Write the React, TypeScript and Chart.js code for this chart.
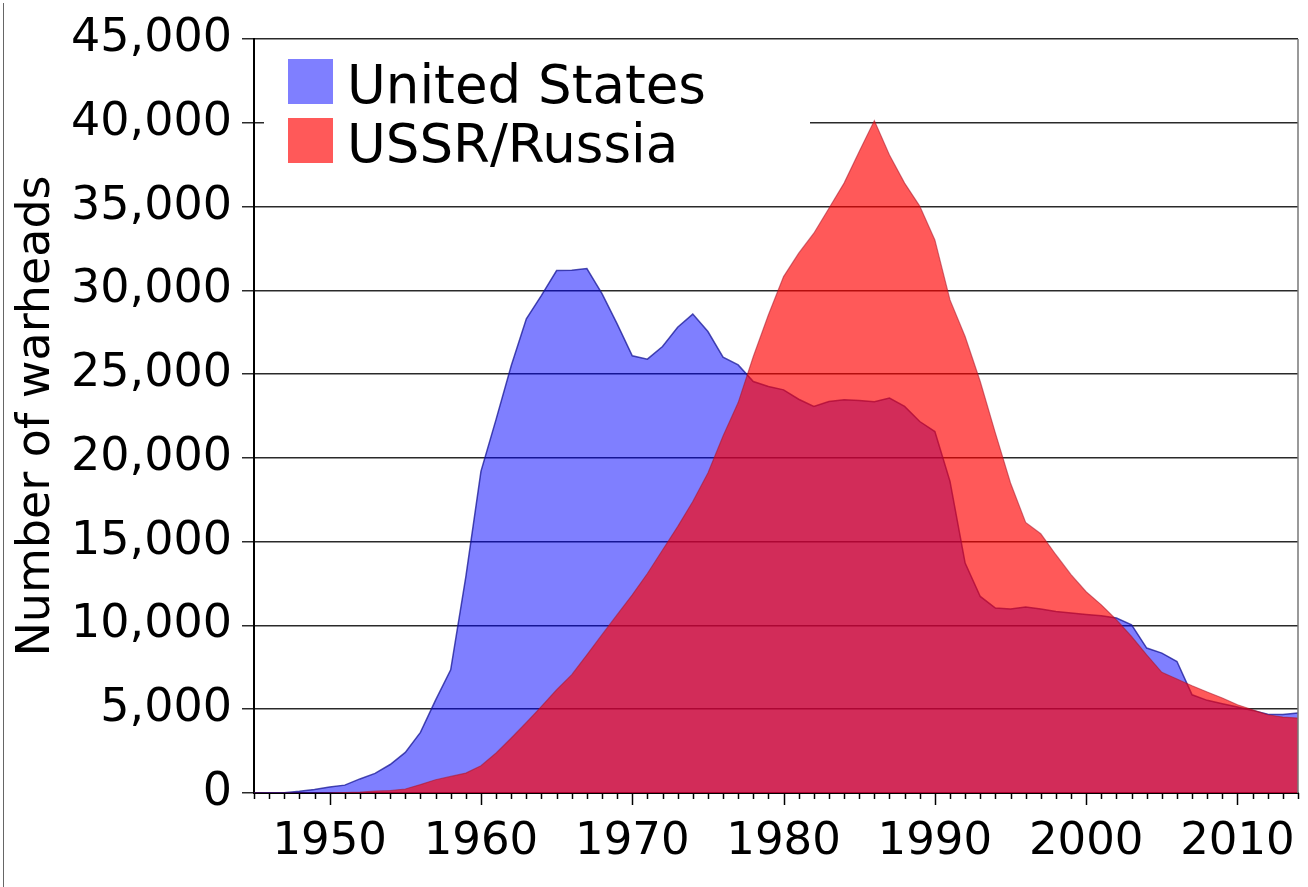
import React, { useEffect, useRef } from 'react';
import { Chart, registerables } from 'chart.js';

Chart.register(...registerables);

const YEARS = [
  1945, 1946, 1947, 1948, 1949, 1950, 1951, 1952, 1953, 1954,
  1955, 1956, 1957, 1958, 1959, 1960, 1961, 1962, 1963, 1964,
  1965, 1966, 1967, 1968, 1969, 1970, 1971, 1972, 1973, 1974,
  1975, 1976, 1977, 1978, 1979, 1980, 1981, 1982, 1983, 1984,
  1985, 1986, 1987, 1988, 1989, 1990, 1991, 1992, 1993, 1994,
  1995, 1996, 1997, 1998, 1999, 2000, 2001, 2002, 2003, 2004,
  2005, 2006, 2007, 2008, 2009, 2010, 2011, 2012, 2013, 2014,
];

const US_WARHEADS = [
  2, 9, 13, 100, 215, 360, 470, 840, 1170, 1700,
  2420, 3620, 5540, 7350, 12900, 19200, 22300, 25500, 28300, 29700,
  31180, 31200, 31300, 29800, 28000, 26090, 25890, 26650, 27800, 28580,
  27540, 26010, 25550, 24560, 24260, 24060, 23500, 23070, 23370, 23470,
  23430, 23350, 23570, 23070, 22170, 21570, 18600, 13720, 11730, 11040,
  10980, 11100, 10980, 10830, 10740, 10660, 10580, 10440, 10040, 8650,
  8350, 7850, 5860, 5530, 5330, 5130, 4930, 4700, 4680, 4770,
];

const USSR_WARHEADS = [
  0, 0, 0, 0, 1, 5, 25, 50, 120, 150,
  240, 500, 790, 990, 1190, 1630, 2390, 3280, 4210, 5170,
  6160, 7060, 8250, 9450, 10640, 11830, 13100, 14500, 15900, 17400,
  19100, 21300, 23300, 26050, 28540, 30820, 32220, 33410, 34900, 36400,
  38280, 40130, 38080, 36400, 35030, 33010, 29430, 27240, 24560, 21480,
  18500, 16150, 15470, 14220, 13030, 12010, 11230, 10340, 9340, 8250,
  7200, 6800, 6400, 6030, 5670, 5270, 4970, 4670, 4530, 4470,
];

const SERIES_NAMES = ['United States', 'USSR/Russia'];
const Y_MIN = 0;
const Y_MAX = 45000;
const Y_STEP = 5000;
const X_LABEL_EVERY = 10;

const US_FILL = 'rgba(0, 0, 255, 0.5)';
const RU_FILL = 'rgba(255, 0, 0, 0.65)';
const FONT = '"DejaVu Sans", "Liberation Sans", sans-serif';

const decorPlugin = {
  id: 'decor',
  beforeDatasetsDraw(chart: any) {
    const ctx = chart.ctx;
    const y = chart.scales.y;
    const area = chart.chartArea;
    ctx.save();
    ctx.fillStyle = '#ffffff';
    const top = y.getPixelForValue(45000) + 2;
    ctx.fillRect(area.left + 10, top, 546, 141);
    ctx.restore();
  },
  afterDraw(chart: any) {
    const ctx = chart.ctx;
    const x = chart.scales.x;
    const area = chart.chartArea;
    ctx.save();
    // year tick marks
    ctx.strokeStyle = '#000';
    ctx.lineWidth = 1.5;
    for (const yr of YEARS) {
      const px = Math.round(x.getPixelForValue(yr)) + 0.5;
      const len = yr % X_LABEL_EVERY === 0 ? 12 : 6;
      ctx.beginPath();
      ctx.moveTo(px, area.bottom);
      ctx.lineTo(px, area.bottom + len);
      ctx.stroke();
    }
    // right axis line
    ctx.strokeStyle = '#777';
    ctx.lineWidth = 1.5;
    ctx.beginPath();
    ctx.moveTo(area.right, area.top);
    ctx.lineTo(area.right, area.bottom);
    ctx.stroke();
    // image frame (left)
    ctx.strokeStyle = '#666';
    ctx.lineWidth = 1;
    ctx.beginPath();
    ctx.moveTo(3.5, 3);
    ctx.lineTo(3.5, chart.height);
    ctx.stroke();
    // legend
    const lx = area.left + 34;
    const items = [
      { name: SERIES_NAMES[0], color: US_FILL, top: 59 },
      { name: SERIES_NAMES[1], color: RU_FILL, top: 118 },
    ];
    ctx.font = '53px ' + FONT;
    ctx.textBaseline = 'alphabetic';
    ctx.textAlign = 'left';
    for (const it of items) {
      ctx.fillStyle = it.color;
      ctx.fillRect(lx, it.top, 45, 45);
      ctx.fillStyle = '#000';
      ctx.fillText(it.name, lx + 59, it.top + 44);
    }
    ctx.restore();
  },
};

export default function App() {
  const ref = useRef<HTMLCanvasElement | null>(null);

  useEffect(() => {
    document.body.style.margin = '0';
    const canvas = ref.current;
    if (!canvas) return;
    const chart = new Chart(canvas, {
      type: 'line',
      data: {
        datasets: [
          {
            label: SERIES_NAMES[0],
            data: YEARS.map((yr, i) => ({ x: yr, y: US_WARHEADS[i] })),
            backgroundColor: US_FILL,
            borderColor: 'rgba(20, 20, 150, 0.75)',
            borderWidth: 1.5,
            fill: 'origin',
            pointRadius: 0,
            tension: 0,
            order: 2,
          },
          {
            label: SERIES_NAMES[1],
            data: YEARS.map((yr, i) => ({ x: yr, y: USSR_WARHEADS[i] })),
            backgroundColor: RU_FILL,
            borderColor: 'rgba(170, 20, 40, 0.55)',
            borderWidth: 1.2,
            fill: 'origin',
            pointRadius: 0,
            tension: 0,
            order: 1,
          },
        ],
      },
      options: {
        animation: false,
        responsive: false,
        devicePixelRatio: 1,
        layout: { padding: { top: 39, right: 10, left: 0, bottom: 0 } },
        plugins: {
          legend: { display: false },
          tooltip: { enabled: false },
        },
        scales: {
          x: {
            type: 'linear',
            min: YEARS[0],
            max: YEARS[YEARS.length - 1],
            grid: { display: false, drawTicks: true, tickLength: 12 },
            border: { display: true, color: '#000', width: 2 },
            ticks: {
              stepSize: 1,
              autoSkip: false,
              maxRotation: 0,
              padding: 10,
              color: '#000',
              font: { family: FONT, size: 45 },
              callback: (v: any) => (Number(v) % X_LABEL_EVERY === 0 ? String(v) : ''),
            },
            afterFit: (scale: any) => {
              scale.height = 94;
            },
          },
          y: {
            min: Y_MIN,
            max: Y_MAX,
            grid: { color: '#2a2a2a', lineWidth: 1.5, drawTicks: true, tickLength: 12 },
            border: { display: true, color: '#000', width: 2 },
            ticks: {
              stepSize: Y_STEP,
              padding: 10,
              color: '#000',
              font: { family: FONT, size: 46 },
              callback: (v: any) => Number(v).toLocaleString('en-US'),
            },
            title: {
              display: true,
              text: 'Number of warheads',
              color: '#000',
              font: { family: FONT, size: 46 },
              padding: { top: 9, bottom: 0 },
            },
            afterFit: (scale: any) => {
              scale.width = 254;
            },
          },
        },
      },
      plugins: [decorPlugin],
    });
    return () => chart.destroy();
  }, []);

  return (
    <div style={{ position: 'absolute', left: 0, top: 0, width: 1308, height: 887, background: '#fff' }}>
      <canvas ref={ref} width={1308} height={887} />
    </div>
  );
}
